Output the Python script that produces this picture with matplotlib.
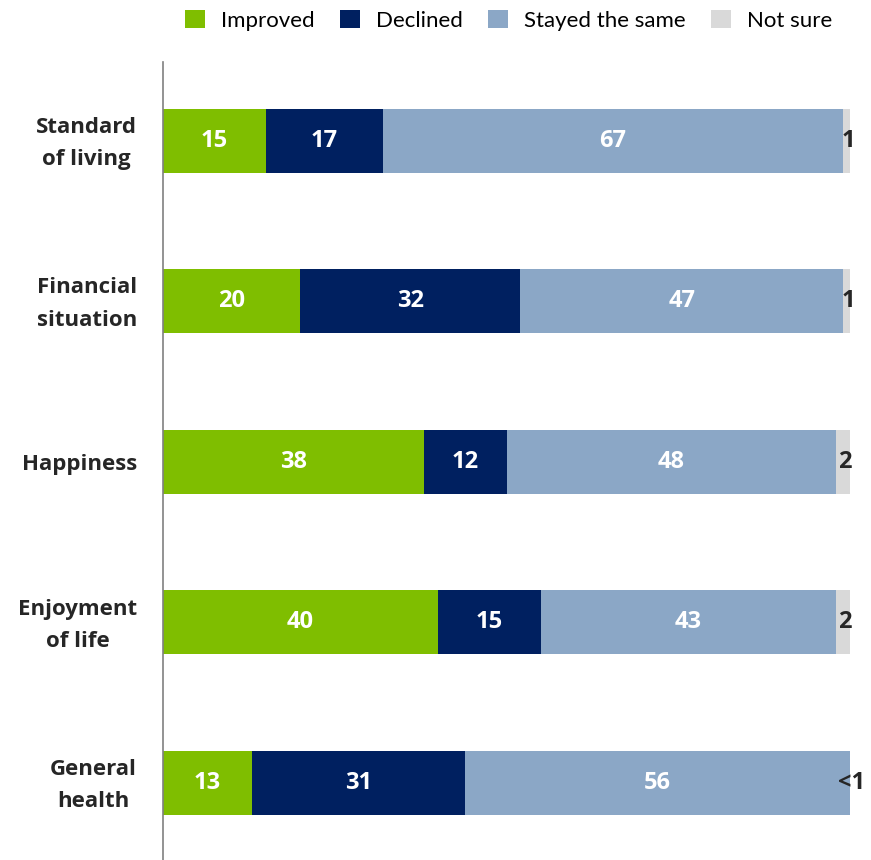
import matplotlib
matplotlib.use("Agg")
import matplotlib.pyplot as plt
import matplotlib.transforms as mtransforms
from matplotlib.patches import Patch
import numpy as np

plt.rcParams['font.family'] = ['Open Sans', 'DejaVu Sans']

categories = ["Standard\nof living", "Financial\nsituation", "Happiness",
              "Enjoyment\nof life", "General\nhealth"]
improved = [15, 20, 38, 40, 13]
declined = [17, 32, 12, 15, 31]
same = [67, 47, 48, 43, 56]
not_sure = [1, 1, 2, 2, 0]
not_sure_labels = ["1", "1", "2", "2", "<1"]

series = ["Improved", "Declined", "Stayed the same", "Not sure"]
colors = ["#7fbe00", "#002060", "#8ba7c6", "#d9d9d9"]

fig = plt.figure(figsize=(8.71, 8.6), dpi=100)
ax = fig.add_axes([163 / 871, 0.0, 687 / 871, (860 - 62) / 860])

y = np.arange(len(categories))
left = np.zeros(len(categories))
for vals, col in zip([improved, declined, same, not_sure], colors):
    vals = np.array(vals, dtype=float)
    ax.barh(y, vals, left=left, height=0.4, color=col, edgecolor="none")
    left += vals

# value labels inside the main segments
left = np.zeros(len(categories))
for vals in [improved, declined, same]:
    for i, v in enumerate(vals):
        ax.text(left[i] + v / 2, y[i], str(v), ha="center", va="center",
                color="white", fontsize=17, fontweight="bold")
    left += np.array(vals)

# small "not sure" labels at the end of the bars
for i, lab in enumerate(not_sure_labels):
    x = left[i] + not_sure[i] / 2
    ax.text(x + 0.2, y[i], lab, ha="center", va="center", color="#262626",
            fontsize=17, fontweight="bold", clip_on=False)

# category names, centred lines, to the left of the axis line
base = mtransforms.blended_transform_factory(ax.transAxes, ax.transData)
tr = base + mtransforms.ScaledTranslation(-26 / 100, -2 / 72, fig.dpi_scale_trans)
for i, cat in enumerate(categories):
    ax.text(0, y[i], cat, transform=tr, ha="right", va="center",
            multialignment="center", fontsize=16, fontweight="bold",
            color="#262626", linespacing=1.7)

ax.set_xlim(0, 100)
ax.set_ylim(4.48, -0.49)
ax.set_yticks([])
ax.set_xticks([])
for s in ["top", "right", "bottom"]:
    ax.spines[s].set_visible(False)
ax.spines["left"].set_color("#808080")
ax.spines["left"].set_linewidth(1.2)

handles = [Patch(facecolor=c, edgecolor="none") for c in colors]
fig.legend(handles, series, loc="upper center", bbox_to_anchor=(0.584, 1.012),
           ncol=4, frameon=False, handlelength=0.9,
           handleheight=0.9, columnspacing=1.13, handletextpad=0.72,
           prop={'family': ['Lato', 'DejaVu Sans'], 'size': 16})

fig.savefig("out.png", dpi=100)
